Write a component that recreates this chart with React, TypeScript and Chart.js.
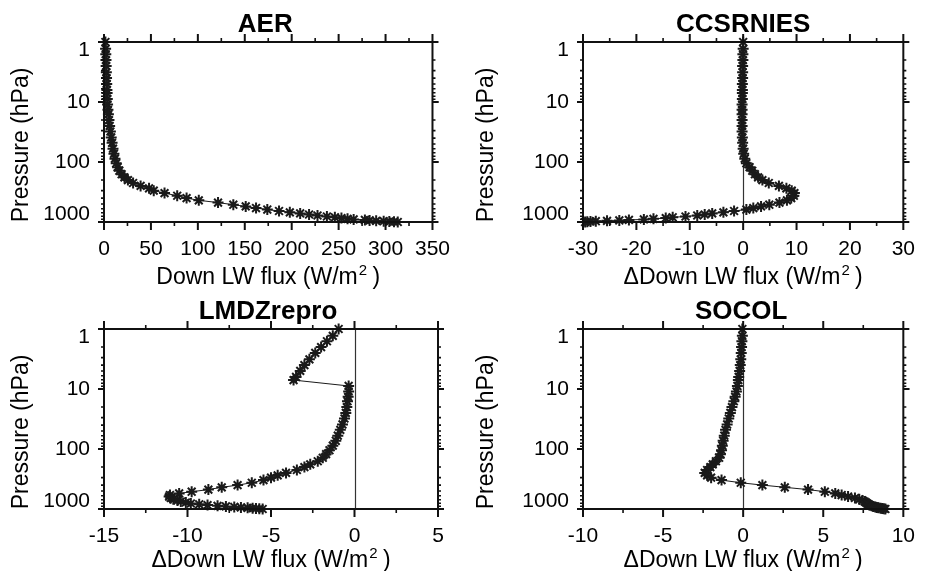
import React, { useEffect, useRef } from "react";
import { Chart, registerables } from "chart.js";

Chart.register(...registerables);

const FONT = "'Liberation Sans', Arial, Helvetica, sans-serif";

// Pressure levels (hPa), top of atmosphere to surface
const PRESSURE_HPA = [
  1, 1.3, 1.6, 2, 2.5, 3.2, 4, 5, 6.3, 7.1,
  8.9, 11, 13.5, 16, 20, 25, 31, 39, 48, 60,
  73, 88, 105, 122, 140, 160, 180, 200, 224, 250,
  275, 300, 330, 365, 400, 435, 475, 515, 550, 585,
  620, 655, 690, 720, 750, 780, 810, 835, 860, 885,
  905, 925, 942, 957, 970, 981, 990, 1000,
];

// AER: downward LW flux (W/m2)
const AER_FLUX = [
  1.5, 1.7, 1.9, 2.1, 2.3, 2.5, 2.7, 2.9, 3.1, 3.3,
  3.5, 3.8, 4.2, 4.7, 5.3, 6.0, 6.8, 7.7, 8.6, 9.6,
  10.6, 11.7, 13.0, 14.5, 16.3, 18.8, 21.8, 25.5, 31, 39,
  48, 53, 64.5, 78, 88, 101, 121.5, 137.8, 151, 162,
  174, 186.5, 198, 209, 218.5, 227.5, 237.5, 246, 253, 259.5,
  266, 278, 283, 290, 298, 304, 309, 313,
];

// CCSRNIES minus AER (W/m2)
const CCSRNIES_DIFF = [
  0.0, 0.0, -0.05, -0.05, -0.1, -0.1, -0.1, -0.15, -0.15, -0.15,
  -0.15, -0.2, -0.2, -0.2, -0.2, -0.2, -0.2, -0.15, -0.1, 0.0,
  0.1, 0.3, 0.6, 1.2, 1.7, 2.2, 2.8, 3.6, 4.8, 6.7,
  8.1, 9.1, 9.6, 9.5, 9.0, 8.2, 6.8, 4.9, 3.35, 1.9,
  0.6, -1.7, -3.7, -5.8, -7.2, -8.6, -10.8, -13.2, -14.5, -16.8,
  -18.6, -21.4, -23.2, -25.5, -27.6, -28.6, -29.2, -29.6,
];

// LMDZrepro minus AER (W/m2)
const LMDZREPRO_DIFF = [
  -0.95, -1.3, -1.65, -2.0, -2.35, -2.7, -3.0, -3.25, -3.5, -3.65,
  -0.35, -0.35, -0.38, -0.42, -0.46, -0.52, -0.6, -0.72, -0.85, -1.0,
  -1.12, -1.3, -1.5, -1.7, -1.9, -2.2, -2.65, -3.0, -3.45, -4.1,
  -4.6, -5.0, -5.45, -6.15, -7.0, -7.95, -8.75, -9.75, -10.5, -11.05,
  -11.1, -11.0, -10.85, -10.6, -10.4, -10.1, -9.8, -9.3, -8.8, -8.2,
  -7.7, -7.2, -6.8, -6.4, -6.1, -5.9, -5.7, -5.5,
];

// SOCOL minus AER (W/m2)
const SOCOL_DIFF = [
  -0.05, -0.05, -0.08, -0.1, -0.12, -0.15, -0.18, -0.22, -0.28, -0.3,
  -0.36, -0.42, -0.5, -0.58, -0.7, -0.8, -0.9, -1.0, -1.1, -1.18,
  -1.25, -1.3, -1.35, -1.42, -1.5, -1.7, -1.9, -2.05, -2.25, -2.4,
  -2.25, -2.0, -1.35, -0.15, 1.2, 2.6, 4.05, 5.1, 5.75, 6.15,
  6.55, 6.98, 7.25, 7.45, 7.58, 7.67, 7.75, 7.82, 7.9, 8.02,
  8.12, 8.25, 8.35, 8.45, 8.58, 8.68, 8.78, 8.88,
];

const PANEL_TITLES = ["AER", "CCSRNIES", "LMDZrepro", "SOCOL"];
// x-axis titles: [main text, superscript, closing text]
const X_TITLES = [
  ["Down LW flux (W/m", "2", " )"],
  ["\u0394Down LW flux (W/m", "2", " )"],
  ["\u0394Down LW flux (W/m", "2", " )"],
  ["\u0394Down LW flux (W/m", "2", " )"],
];
const PANEL_SERIES = [AER_FLUX, CCSRNIES_DIFF, LMDZREPRO_DIFF, SOCOL_DIFF];
const X_MIN = [0, -30, -15, -10];
const X_MAX = [350, 30, 5, 10];
const X_MAJOR_STEP = [50, 10, 5, 5];
const X_MINOR_STEP = [25, 5, 2.5, 2.5];
const SHOW_ZERO_LINE = [false, true, true, true];
const Y_TICK_VALUES = [1, 10, 100, 1000];
const Y_TITLE = "Pressure (hPa)";

// Layout of the four panels (pixels)
const LAYOUT = [
  { left: 0, top: 0, w: 465, h: 300, l: 104, t: 42, r: 438, b: 222, xTitleOff: 62, titleDx: -3 },
  { left: 465, top: 0, w: 465, h: 300, l: 118, t: 42, r: 452, b: 222, xTitleOff: 62, titleDx: 0 },
  { left: 0, top: 280, w: 465, h: 291, l: 104, t: 49, r: 438, b: 229, xTitleOff: 58, titleDx: -3 },
  { left: 465, top: 280, w: 465, h: 291, l: 118, t: 49, r: 452, b: 229, xTitleOff: 58, titleDx: -2 },
];

function Panel({ idx }: { idx: number }) {
  const ref = useRef<HTMLCanvasElement | null>(null);
  const L = LAYOUT[idx];

  useEffect(() => {
    const canvas = ref.current;
    if (!canvas) return;
    const series = PANEL_SERIES[idx];
    const points = PRESSURE_HPA.map((p, i) => ({ x: series[i], y: p }));

    const decor = {
      id: "decor" + idx,
      beforeDatasetsDraw(chart: any) {
        if (!SHOW_ZERO_LINE[idx]) return;
        const ctx = chart.ctx;
        const a = chart.chartArea;
        const x0 = Math.round(chart.scales.x.getPixelForValue(0)) + 0.5;
        ctx.save();
        ctx.strokeStyle = "#333";
        ctx.lineWidth = 1.2;
        ctx.beginPath();
        ctx.moveTo(x0, a.top);
        ctx.lineTo(x0, a.bottom);
        ctx.stroke();
        ctx.restore();
      },
      afterDraw(chart: any) {
        const ctx = chart.ctx;
        const a = chart.chartArea;
        const xs = chart.scales.x;
        const ys = chart.scales.y;
        ctx.save();
        ctx.strokeStyle = "#111";
        ctx.fillStyle = "#111";
        // frame
        ctx.lineWidth = 2;
        ctx.strokeRect(a.left, a.top, a.right - a.left, a.bottom - a.top);
        // x ticks (top and bottom, outward)
        const nMinor = Math.round((X_MAX[idx] - X_MIN[idx]) / X_MINOR_STEP[idx]);
        for (let k = 0; k <= nMinor; k++) {
          const v = X_MIN[idx] + k * X_MINOR_STEP[idx];
          const isMajor = Math.abs(v / X_MAJOR_STEP[idx] - Math.round(v / X_MAJOR_STEP[idx])) < 1e-6;
          const len = isMajor ? 8 : 4;
          const px = xs.getPixelForValue(v);
          ctx.lineWidth = isMajor ? 2 : 1.6;
          ctx.beginPath();
          ctx.moveTo(px, a.bottom);
          ctx.lineTo(px, a.bottom + len);
          ctx.moveTo(px, a.top);
          ctx.lineTo(px, a.top - len);
          ctx.stroke();
        }
        // y ticks (log, left and right, outward)
        for (let d = 1; d < 1000; d *= 10) {
          for (let m = 1; m <= 10; m++) {
            const v = d * m;
            const isMajor = m === 1 || m === 10;
            const len = isMajor ? 6 : 3;
            const py = ys.getPixelForValue(v);
            ctx.lineWidth = isMajor ? 2 : 1.6;
            ctx.beginPath();
            ctx.moveTo(a.left, py);
            ctx.lineTo(a.left - len, py);
            ctx.moveTo(a.right, py);
            ctx.lineTo(a.right + len, py);
            ctx.stroke();
          }
        }
        // y tick labels
        ctx.fillStyle = "#000";
        ctx.font = `21px ${FONT}`;
        ctx.textAlign = "right";
        ctx.textBaseline = "middle";
        for (const v of Y_TICK_VALUES) {
          let py = ys.getPixelForValue(v);
          py = Math.min(Math.max(py, a.top + 8), a.bottom - 8);
          ctx.fillText(String(v), a.left - 14, py);
        }
        // panel title
        ctx.font = `bold 26px ${FONT}`;
        ctx.textAlign = "center";
        ctx.textBaseline = "alphabetic";
        ctx.fillText(PANEL_TITLES[idx], (a.left + a.right) / 2 + L.titleDx, a.top - 10);
        // x title with superscript
        const [main, sup, tail] = X_TITLES[idx];
        const baseFont = `23px ${FONT}`;
        const supFont = `15px ${FONT}`;
        ctx.font = baseFont;
        const wMain = ctx.measureText(main).width;
        const wTail = ctx.measureText(tail).width;
        ctx.font = supFont;
        const wSup = ctx.measureText(sup).width;
        const total = wMain + wSup + wTail;
        let cx = (a.left + a.right) / 2 - total / 2;
        const by = a.bottom + L.xTitleOff;
        ctx.textAlign = "left";
        ctx.font = baseFont;
        ctx.fillText(main, cx, by);
        cx += wMain;
        ctx.font = supFont;
        ctx.fillText(sup, cx + 1, by - 9);
        cx += wSup;
        ctx.font = baseFont;
        ctx.fillText(tail, cx, by);
        // y title
        ctx.translate(22, (a.top + a.bottom) / 2 + 13);
        ctx.rotate(-Math.PI / 2);
        ctx.font = `23px ${FONT}`;
        ctx.textAlign = "center";
        ctx.textBaseline = "middle";
        ctx.fillText(Y_TITLE, 0, 0);
        ctx.restore();
      },
    };

    const chart = new Chart(canvas, {
      type: "scatter",
      data: {
        datasets: [
          {
            data: points,
            showLine: true,
            borderColor: "#1a1a1a",
            borderWidth: 1,
            pointStyle: "star",
            pointRadius: 5.5,
            pointBorderWidth: 2,
            pointBorderColor: "#1a1a1a",
            pointBackgroundColor: "#1a1a1a",
            clip: false,
          } as any,
        ],
      },
      options: {
        animation: false,
        responsive: false,
        maintainAspectRatio: false,
        devicePixelRatio: 1,
        layout: { padding: { top: L.t, right: L.w - L.r, left: 0, bottom: 0 } },
        plugins: {
          legend: { display: false },
          tooltip: { enabled: false },
          title: { display: false },
        },
        scales: {
          x: {
            type: "linear",
            position: "bottom",
            min: X_MIN[idx],
            max: X_MAX[idx],
            afterFit: (s: any) => {
              s.height = L.h - L.b;
            },
            ticks: {
              stepSize: X_MAJOR_STEP[idx],
              autoSkip: false,
              maxRotation: 0,
              minRotation: 0,
              color: "#000",
              padding: 15,
              font: { family: FONT, size: 21 },
              callback: (v: any) => String(v),
            },
            grid: { display: false, drawTicks: false },
            border: { display: false },
          },
          y: {
            type: "logarithmic",
            position: "left",
            reverse: true,
            min: 1,
            max: 1000,
            afterFit: (s: any) => {
              s.width = L.l;
            },
            ticks: { display: false },
            grid: { display: false, drawTicks: false },
            border: { display: false },
          },
        },
      } as any,
      plugins: [decor],
    });
    return () => chart.destroy();
  }, [idx]);

  return (
    <canvas
      ref={ref}
      width={L.w}
      height={L.h}
      style={{ position: "absolute", left: L.left, top: L.top, width: L.w, height: L.h }}
    />
  );
}

export default function App() {
  return (
    <div
      style={{
        position: "absolute",
        left: 0,
        top: 0,
        width: 930,
        height: 571,
        background: "#fff",
        overflow: "hidden",
      }}
    >
      {[0, 1, 2, 3].map((i) => (
        <Panel key={i} idx={i} />
      ))}
    </div>
  );
}
